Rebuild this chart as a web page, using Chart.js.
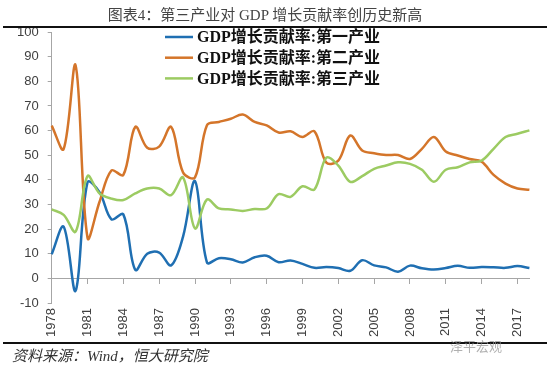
<!DOCTYPE html>
<html><head><meta charset="utf-8">
<script src="https://cdn.jsdelivr.net/npm/chart.js@4/dist/chart.umd.min.js"></script>
<style>
html,body{margin:0;padding:0;background:#fff;}
#wrap{position:relative;width:550px;height:366px;overflow:hidden;background:#fff;}
#c{position:absolute;left:0;top:0;}
.title{position:absolute;left:0;top:3px;width:530px;text-align:center;font:15px "Liberation Serif","Noto Sans CJK SC";color:#444;white-space:nowrap;}
.rule{position:absolute;left:3px;width:544px;height:2px;background:#111;}
.src{position:absolute;left:12px;top:344px;font:italic 15px "Liberation Serif","Noto Sans CJK SC";color:#333;white-space:nowrap;}
.wm{position:absolute;left:450px;top:336px;font:13px "Noto Sans CJK SC";color:rgba(150,150,150,0.75);white-space:nowrap;}
</style></head>
<body>
<div id="wrap">
<canvas id="c" width="550" height="366"></canvas>
<div class="title">图表4：第三产业对 GDP 增长贡献率创历史新高</div>
<div class="rule" style="top:26px"></div>
<div class="rule" style="top:342px"></div>
<div class="src">资料来源：Wind，恒大研究院</div>
<div class="wm">泽平宏观</div>
</div>
<script>
const years = ['1978','1979','1980','1981','1982','1983','1984','1985','1986','1987','1988','1989','1990','1991','1992','1993','1994','1995','1996','1997','1998','1999','2000','2001','2002','2003','2004','2005','2006','2007','2008','2009','2010','2011','2012','2013','2014','2015','2016','2017','2018'];
const tickYears = ['1978','1981','1984','1987','1990','1993','1996','1999','2002','2005','2008','2011','2014','2017'];
const primary = [9.8,21,-5,39,35,24,26,3.5,10,10.5,5.3,17,39.5,6.5,8.2,7.8,6.5,8.6,9.2,6.6,7.3,5.9,4.3,4.6,4.2,3.1,7.4,5.3,4.5,2.7,5.2,4.1,3.6,4.2,5.1,4.3,4.6,4.5,4.3,5.0,4.2];
const secondary = [62,52.5,86.5,16.5,31,43.8,42,61.5,53,53.5,61.5,43,41,62.2,63.5,64.8,66.5,63.5,62.1,59.2,59.7,57.4,59.7,47,47.8,58,51.9,50.8,50.1,50.1,48.5,52.6,57.4,51.5,49.9,48.5,47.4,42,38.5,36.5,36];
const tertiary = [28,25.8,19,41.5,34.5,32.4,31.8,34.5,36.5,36.5,33.8,41,20.3,32,28.4,28,27.4,28.2,28.4,34.2,33.1,37.4,36.1,49,45.8,39.2,41.5,44.5,45.8,47.1,46.5,44.1,39.2,44.1,45.1,47.1,47.8,52.6,57.4,58.7,60.1];
const seriesNames = ['GDP增长贡献率:第一产业','GDP增长贡献率:第二产业','GDP增长贡献率:第三产业'];
const yMin = -10, yMax = 100, yStep = 10;

const insideLegend = {
  id: 'insideLegend',
  afterDraw(chart) {
    const ctx = chart.ctx;
    chart.data.datasets.forEach((ds, i) => {
      const y = 37 + i * 20.7;
      ctx.save();
      ctx.strokeStyle = ds.borderColor;
      ctx.lineWidth = 2.5;
      ctx.beginPath(); ctx.moveTo(165, y); ctx.lineTo(193, y); ctx.stroke();
      ctx.fillStyle = '#111';
      ctx.font = 'bold 16px "Liberation Serif","Noto Sans CJK SC"';
      ctx.textBaseline = 'middle';
      ctx.fillText(ds.label, 197, y + 1);
      ctx.restore();
    });
  }
};

const axisGray = '#a6a6a6';
const tickFont = {family: 'Liberation Sans', size: 13};

new Chart(document.getElementById('c'), {
  type: 'line',
  data: {
    labels: years,
    datasets: [
      {label: seriesNames[0], data: primary, borderColor: '#1f6fb2', order: 2},
      {label: seriesNames[1], data: secondary, borderColor: '#d4752a', order: 1},
      {label: seriesNames[2], data: tertiary, borderColor: '#9ccb62', order: 0}
    ].map(d => Object.assign(d, {borderWidth: 2.5, pointRadius: 0, tension: 0.35, fill: false, xAxisID: 'x', yAxisID: 'y'}))
  },
  options: {
    responsive: false,
    animation: false,
    layout: {padding: {left: 8, right: 20, top: 32, bottom: 24}},
    plugins: {legend: {display: false}, tooltip: {enabled: false}, title: {display: false}},
    scales: {
      x: {
        type: 'category',
        position: {y: 0},
        grid: {drawOnChartArea: false, drawTicks: true, tickLength: 5,
               color: c => (c.index % 3 === 0 ? axisGray : 'rgba(0,0,0,0)')},
        border: {display: true, color: axisGray, width: 1},
        ticks: {display: false, autoSkip: false}
      },
      x2: {
        type: 'category',
        position: 'bottom',
        grid: {display: false, drawTicks: false},
        border: {display: false},
        ticks: {
          autoSkip: false, minRotation: 90, maxRotation: 90, padding: 5,
          font: tickFont, color: '#404040',
          callback(v) { const l = this.getLabelForValue(v); return tickYears.includes(l) ? l : ''; }
        }
      },
      y: {
        min: yMin, max: yMax,
        grid: {drawOnChartArea: false, drawTicks: true, tickLength: 4, color: axisGray},
        border: {display: true, color: axisGray, width: 1},
        ticks: {stepSize: yStep, padding: 9, font: tickFont, color: '#404040'}
      }
    }
  },
  plugins: [insideLegend]
});
</script>
</body></html>
